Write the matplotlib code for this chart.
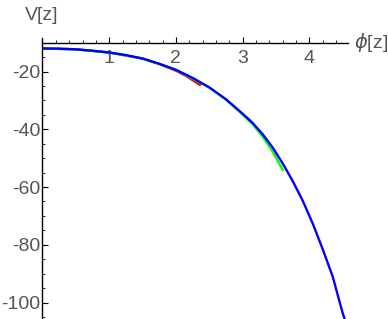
import numpy as np
import matplotlib.pyplot as plt
from matplotlib.ticker import MultipleLocator

# values
phi_blue = [0.0, 0.25, 0.5, 0.75, 1.0, 1.25, 1.5, 1.75, 2.0, 2.25, 2.5, 2.75,
            3.0, 3.15, 3.3, 3.45, 3.6, 3.75, 3.9, 4.05, 4.2, 4.35, 4.5, 4.57]
V_blue = [-12.0, -12.1, -12.3, -12.8, -13.4, -14.3, -15.5, -17.3, -19.4, -22.2,
          -25.5, -29.6, -34.6, -37.8, -41.7, -46.3, -51.8, -57.9, -64.7, -72.6,
          -81.5, -91.0, -103.7, -108.5]

phi_red = [0.0, 0.5, 1.0, 1.5, 1.75, 2.0, 2.15, 2.25, 2.36]
V_red = [-12.0, -12.3, -13.4, -15.5, -17.4, -19.7, -21.5, -23.0, -24.6]

phi_green = [0.0, 0.5, 1.0, 1.5, 2.0, 2.5, 2.75, 3.0, 3.15, 3.3, 3.45, 3.6]
V_green = [-12.0, -12.3, -13.4, -15.5, -19.4, -25.5, -29.7, -34.9, -38.3, -42.5,
           -47.7, -54.0]

xticks = [1, 2, 3, 4]
yticks = [-20, -40, -60, -80, -100]

plt.rcParams['font.family'] = ['Liberation Sans', 'DejaVu Sans']
plt.rcParams['axes.unicode_minus'] = False
TickGray = '#555555'

fig = plt.figure(figsize=(3.88, 3.19), dpi=100)
ax = fig.add_axes([0.1095, 0.0, 0.897 - 0.1095, 0.881])

ax.plot(phi_red, V_red, color=(1, 0, 0), lw=1.7)
ax.plot(phi_green, V_green, color=(0, 1, 0), lw=1.7)
ax.plot(phi_blue, V_blue, color=(0, 0, 1), lw=1.7)

ax.set_xlim(0, 4.58)
ax.set_ylim(-105.7, -8.37)

ax.spines['left'].set_position(('data', 0))
ax.spines['bottom'].set_position(('data', -10))
ax.spines['right'].set_color('none')
ax.spines['top'].set_color('none')
ax.spines['left'].set_linewidth(1.0)
ax.spines['bottom'].set_linewidth(1.0)

ax.set_xticks(xticks)
ax.set_yticks(yticks)
ax.xaxis.set_minor_locator(MultipleLocator(0.2))
ax.yaxis.set_minor_locator(MultipleLocator(5))
ax.tick_params(which='both', direction='in', labelsize=14, labelcolor=TickGray)
ax.tick_params(which='major', length=4, width=0.8)
ax.tick_params(which='minor', length=2.3, width=0.6)
ax.tick_params(axis='x', pad=5)
ax.tick_params(axis='y', pad=1.5)
ax.set_xticklabels([str(t) for t in xticks])
ax.set_yticklabels([str(t) for t in yticks])

fig.text(42 / 388, 1 - 15 / 319, 'V[z]', ha='center', va='center',
         fontsize=14, color=TickGray)
fig.text(354 / 388, 1 - 43 / 319, r'$\phi$[z]', ha='left', va='center',
         fontsize=14, color=TickGray)

fig.savefig('out.png', dpi=100)
